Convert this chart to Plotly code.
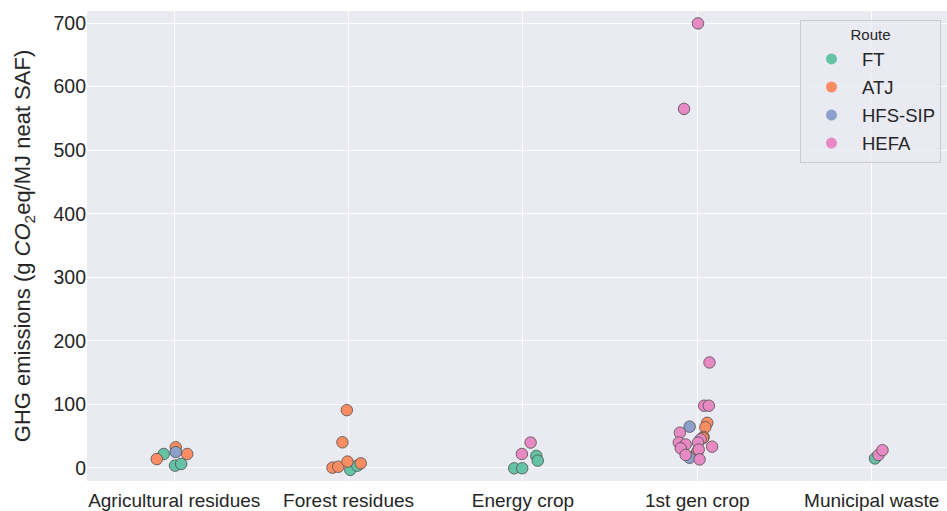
import plotly.graph_objects as go

# Feedstock categories on the x axis
categories = ["Agricultural residues", "Forest residues", "Energy crop",
              "1st gen crop", "Municipal waste"]
routes = ["FT", "ATJ", "HFS-SIP", "HEFA"]
route_colors = {"FT": "#66c2a5", "ATJ": "#fc8d62", "HFS-SIP": "#8da0cb", "HEFA": "#e78ac3"}

# Per route: category index, horizontal jitter (category units), GHG value
ft_cat = [0, 0, 0, 1, 1, 2, 2, 2, 2, 4]
ft_jit = [-0.06, 0.005, 0.04, 0.01, 0.05, 0.077, 0.085, -0.05, -0.004, 0.019]
ft_val = [22, 3.7, 6.3, -3, 3.6, 19, 11.5, -0.5, -0.5, 15]

atj_cat = [0, 0, 0, 1, 1, 1, 1, 1, 1, 3, 3, 3, 3, 3, 3]
atj_jit = [-0.10, 0.009, 0.075, -0.01, -0.035, -0.092, -0.059, -0.006, 0.07,
           0.057, 0.046, 0.036, 0.033, -0.006, 0.0]
atj_val = [14, 32.5, 22, 91, 40.4, 0.5, 2, 10, 7.3,
           71, 64, 49, 47, 21.5, 25.5]

hfs_cat = [0, 3, 3]
hfs_jit = [0.009, -0.044, -0.044]
hfs_val = [25, 65, 16]

hefa_cat = [2, 2, 3, 3, 3, 3, 3, 3, 3, 3, 3, 3, 3, 3, 3, 3, 3, 4, 4]
hefa_jit = [0.044, -0.006, 0.004, -0.076, 0.07, 0.039, 0.066, -0.1, 0.019,
            -0.106, -0.067, 0.004, 0.085, -0.095, 0.008, -0.067, 0.013, 0.039, 0.062]
hefa_val = [40, 22, 699.5, 565, 166, 98, 98, 55.5, 45,
            40, 37, 40, 33.5, 31, 29, 20.5, 13.5, 20.5, 28]

series = {
    "FT": (ft_cat, ft_jit, ft_val),
    "ATJ": (atj_cat, atj_jit, atj_val),
    "HFS-SIP": (hfs_cat, hfs_jit, hfs_val),
    "HEFA": (hefa_cat, hefa_jit, hefa_val),
}

y_ticks = [0, 100, 200, 300, 400, 500, 600, 700]

FONT = "Liberation Sans, Arial, sans-serif"
TEXT = "#262626"

fig = go.Figure()
for route in routes:
    cats, jit, vals = series[route]
    fig.add_trace(go.Scatter(
        x=[c + j for c, j in zip(cats, jit)], y=vals, mode="markers",
        name=route, showlegend=False,
        marker=dict(size=11.5, color=route_colors[route],
                    line=dict(color="#4d4d4d", width=0.8)),
    ))
# legend entries (plain markers without edge)
for route in routes:
    fig.add_trace(go.Scatter(
        x=[None], y=[None], mode="markers", name=route, legendgroup=route,
        marker=dict(size=11, color=route_colors[route]),
    ))

fig.update_layout(
    width=947, height=511,
    margin=dict(l=87, r=0, t=11, b=30),
    paper_bgcolor="white", plot_bgcolor="#eaeaf2",
    font=dict(family=FONT, color=TEXT, size=19),
    legend=dict(
        title=dict(text="Route", side="top center", font=dict(size=15, color=TEXT)),
        x=(800 - 87) / 860, xanchor="left", y=0.981, yanchor="top",
        bgcolor="rgba(234,234,242,0.8)", bordercolor="#cccccc", borderwidth=1,
        font=dict(size=18.5, color=TEXT), tracegroupgap=1,
        itemwidth=51, entrywidth=84,
    ),
    xaxis=dict(
        range=[-0.5, 4.432], tickmode="array",
        tickvals=list(range(len(categories))), ticktext=categories,
        showgrid=True, gridcolor="white", gridwidth=1, zeroline=False,
        tickfont=dict(size=19, color=TEXT), ticklabelstandoff=6,
    ),
    yaxis=dict(
        range=[-20.5, 719], tickmode="array", tickvals=y_ticks,
        showgrid=True, gridcolor="white", gridwidth=1, zeroline=False,
        tickfont=dict(size=19.5, color=TEXT), ticklabelstandoff=0,
        title=dict(text="GHG emissions (g <i>CO</i><sub>2</sub>eq/MJ neat SAF)",
                   font=dict(size=22, color=TEXT), standoff=16),
    ),
)

fig.write_html("out.html")
